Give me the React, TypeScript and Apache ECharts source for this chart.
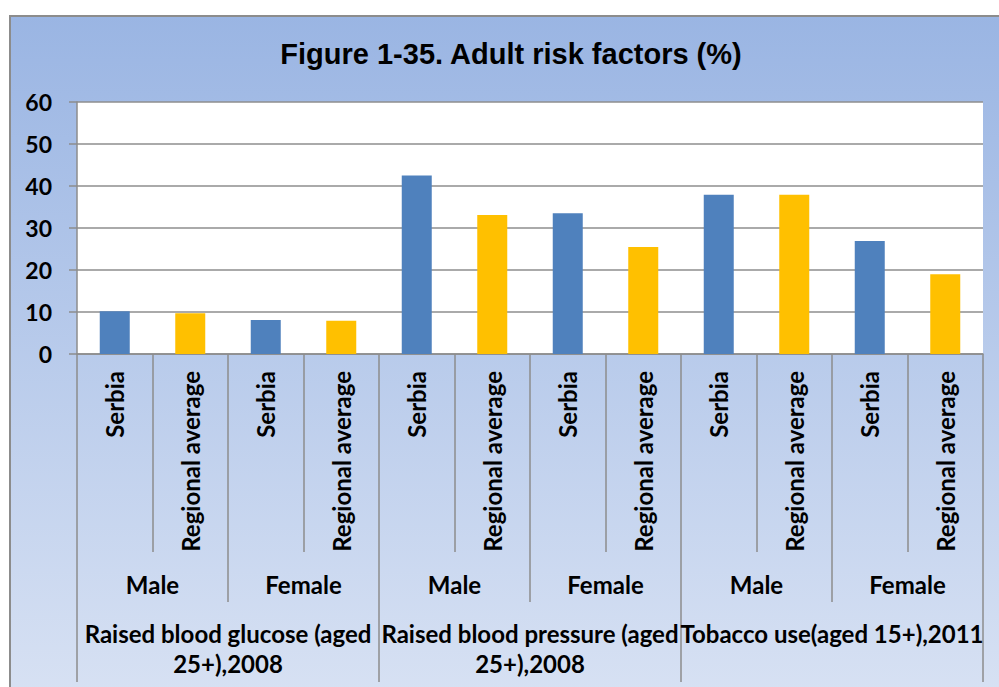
import React, { useEffect, useRef } from "react";
import * as echarts from "echarts";

const TITLE = "Figure 1-35. Adult risk factors (%)";
const indicatorGroups = [
  "Raised blood glucose (aged\n25+),2008",
  "Raised blood pressure (aged\n25+),2008",
  "Tobacco use(aged 15+),2011",
];
const sexes = ["Male", "Female", "Male", "Female", "Male", "Female"];
const sources = ["Serbia", "Regional average"];
const serbiaValues = [10.2, 8.1, 42.5, 33.5, 37.9, 26.9];
const regionalValues = [9.7, 7.9, 33.1, 25.5, 37.9, 19.0];
const yTicks = [0, 10, 20, 30, 40, 50, 60];

const BLUE = "#4F81BD";
const GOLD = "#FFC000";
const FONT = "Lato";

export default function App() {
  const ref = useRef<HTMLDivElement>(null);

  useEffect(() => {
    if (!ref.current) return;
    const chart = echarts.init(ref.current, undefined, { renderer: "svg" });

    const categories: string[] = [];
    const barData: any[] = [];
    serbiaValues.forEach((v, i) => {
      categories.push(sources[0], sources[1]);
      barData.push({ value: v, itemStyle: { color: BLUE } });
      barData.push({ value: regionalValues[i], itemStyle: { color: GOLD } });
    });

    const labelBase = {
      fontFamily: FONT,
      fontWeight: "bold" as const,
      fontSize: 24,
      color: "#000",
    };

    chart.setOption({
      animation: false,
      graphic: [
        {
          type: "rect",
          z: -10,
          silent: true,
          shape: { x: 10, y: 16, width: 1100, height: 800 },
          style: {
            fill: new echarts.graphic.LinearGradient(0, 0, 0, 1, [
              { offset: 0, color: "#9AB5E3" },
              { offset: 1, color: "#E2E9F6" },
            ]),
            stroke: "#8C8C8C",
            lineWidth: 2,
          },
        },
        {
          type: "text",
          z: 10,
          x: 511,
          y: 54,
          style: {
            text: TITLE,
            fontFamily: "Liberation Sans",
            fontWeight: "bold",
            fontSize: 29,
            fill: "#000",
            textAlign: "center",
            textVerticalAlign: "middle",
          },
        },
      ],
      grid: {
        left: 77,
        right: 16,
        top: 102,
        bottom: 333,
        show: true,
        backgroundColor: "#fff",
        borderWidth: 0,
      },
      yAxis: {
        type: "value",
        min: yTicks[0],
        max: yTicks[yTicks.length - 1],
        interval: 10,
        axisLine: { show: true, lineStyle: { color: "#8C8C8C", width: 1.5 } },
        axisTick: { show: true, length: 8, lineStyle: { color: "#8C8C8C", width: 1.5 } },
        splitLine: { show: true, lineStyle: { color: "#8E8E8E", width: 1.5 } },
        axisLabel: { ...labelBase, fontSize: 23, margin: 25 },
      },
      xAxis: [
        {
          type: "category",
          data: categories,
          position: "bottom",
          axisLine: { show: true, lineStyle: { color: "#8C8C8C", width: 1.5 } },
          axisTick: {
            show: true,
            length: 198,
            interval: 0,
            lineStyle: { color: "#8C8C8C", width: 1.5 },
          },
          axisLabel: {
            ...labelBase,
            rotate: 90,
            interval: 0,
            margin: 17,
          },
        },
        {
          type: "category",
          data: sexes,
          position: "bottom",
          offset: 198,
          axisLine: { show: false },
          axisTick: {
            show: true,
            length: 50,
            interval: 0,
            lineStyle: { color: "#8C8C8C", width: 1.5 },
          },
          axisLabel: { ...labelBase, interval: 0, margin: 20, lineHeight: 24 },
        },
        {
          type: "category",
          data: indicatorGroups,
          position: "bottom",
          offset: 248,
          axisLine: { show: false },
          axisTick: {
            show: true,
            length: 80,
            interval: 0,
            lineStyle: { color: "#8C8C8C", width: 1.5 },
          },
          axisLabel: { ...labelBase, interval: 0, margin: 16, lineHeight: 30 },
        },
      ],
      series: [
        {
          type: "bar",
          xAxisIndex: 0,
          data: barData,
          barWidth: 30,
        },
      ],
    });

    return () => chart.dispose();
  }, []);

  return (
    <div
      ref={ref}
      style={{ position: "fixed", left: 0, top: 0, width: 999, height: 687, background: "#fff" }}
    />
  );
}
